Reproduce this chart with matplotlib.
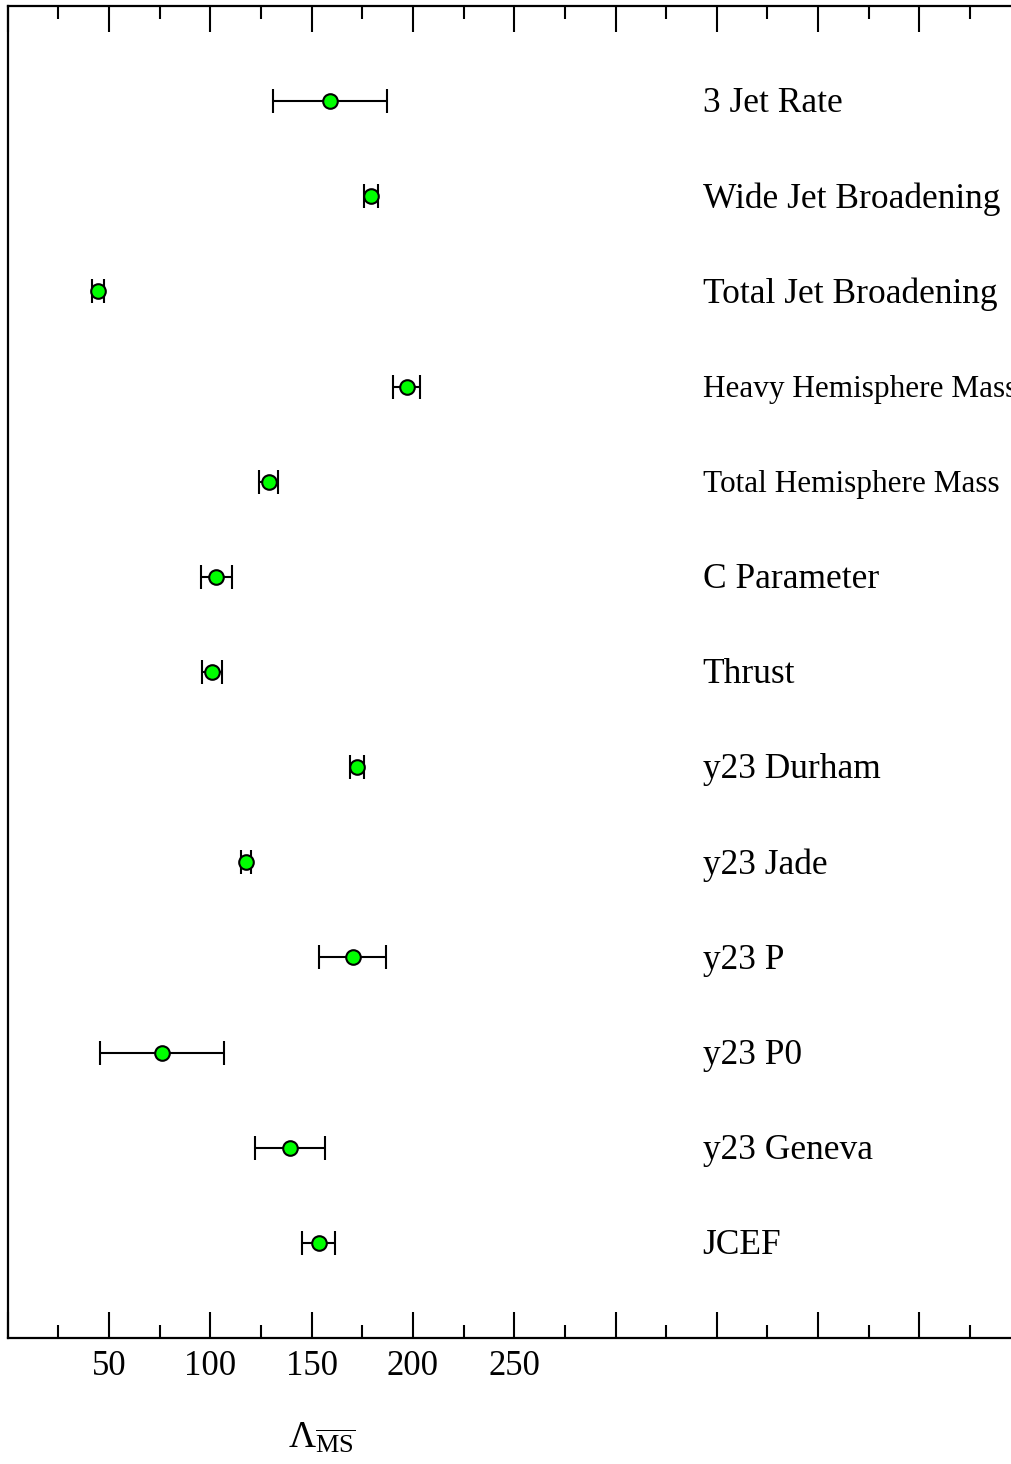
import numpy as np
import matplotlib
matplotlib.use('Agg')
import matplotlib.pyplot as plt
from matplotlib.ticker import MultipleLocator, FuncFormatter

matplotlib.rcParams['font.family'] = ['Liberation Serif', 'DejaVu Serif']
matplotlib.rcParams['mathtext.fontset'] = 'custom'
matplotlib.rcParams['mathtext.rm'] = 'Liberation Serif'
matplotlib.rcParams['mathtext.it'] = 'Liberation Serif:italic'

# observables, top to bottom
observables = ['3 Jet Rate', 'Wide Jet Broadening', 'Total Jet Broadening',
               'Heavy Hemisphere Mass', 'Total Hemisphere Mass', 'C Parameter',
               'Thrust', 'y23 Durham', 'y23 Jade', 'y23 P', 'y23 P0',
               'y23 Geneva', 'JCEF']
lambda_ms = [159.0, 179.5, 44.6, 197.0, 128.8, 103.0, 101.0,
             172.5, 117.6, 170.3, 76.2, 139.5, 153.5]
lambda_err = [28.2, 3.5, 3.0, 6.6, 4.6, 7.6, 5.0,
              3.5, 2.4, 16.6, 30.7, 17.2, 8.2]
label_size = [25.5, 25.5, 25.5, 22.5, 22.5, 25.5, 25.5,
              25.5, 25.5, 25.5, 25.5, 25.5, 25.5]

fig = plt.figure(figsize=(10.11, 14.64), dpi=100)
ax = fig.add_axes([7.7 / 1011, 0.0861, 1013 / 1011, 0.9098])

ypos = np.arange(len(observables))
ax.errorbar(lambda_ms, ypos, xerr=lambda_err, fmt='o', color='black',
            ecolor='black', elinewidth=1.5, capsize=8.5, capthick=1.5,
            markerfacecolor='#00ff00', markeredgecolor='black',
            markeredgewidth=1.5, markersize=10.5)

for i, name in enumerate(observables):
    ax.text(343, ypos[i] + 0.03, name, fontsize=label_size[i], ha='left',
            va='center', clip_on=False)

ax.set_xlim(0, 500)
ax.set_ylim(len(observables), -1)

ax.xaxis.set_major_locator(MultipleLocator(50))
ax.xaxis.set_minor_locator(MultipleLocator(25))
ax.xaxis.set_major_formatter(FuncFormatter(
    lambda v, p: '%d' % v if 0 < v <= 250 else ''))
ax.tick_params(axis='x', which='both', direction='in', top=True, bottom=True,
               width=1.5, labelsize=25, pad=9)
ax.tick_params(axis='x', which='major', length=19)
ax.tick_params(axis='x', which='minor', length=9.5)
ax.set_yticks([])
for s in ax.spines.values():
    s.set_linewidth(1.6)

fig.text(322 / 1011, 1 - 1438 / 1464, r'$\mathrm{\Lambda}_{\overline{\mathrm{MS}}}$',
         fontsize=27, ha='center', va='center')

plt.savefig('out.png', dpi=100)
